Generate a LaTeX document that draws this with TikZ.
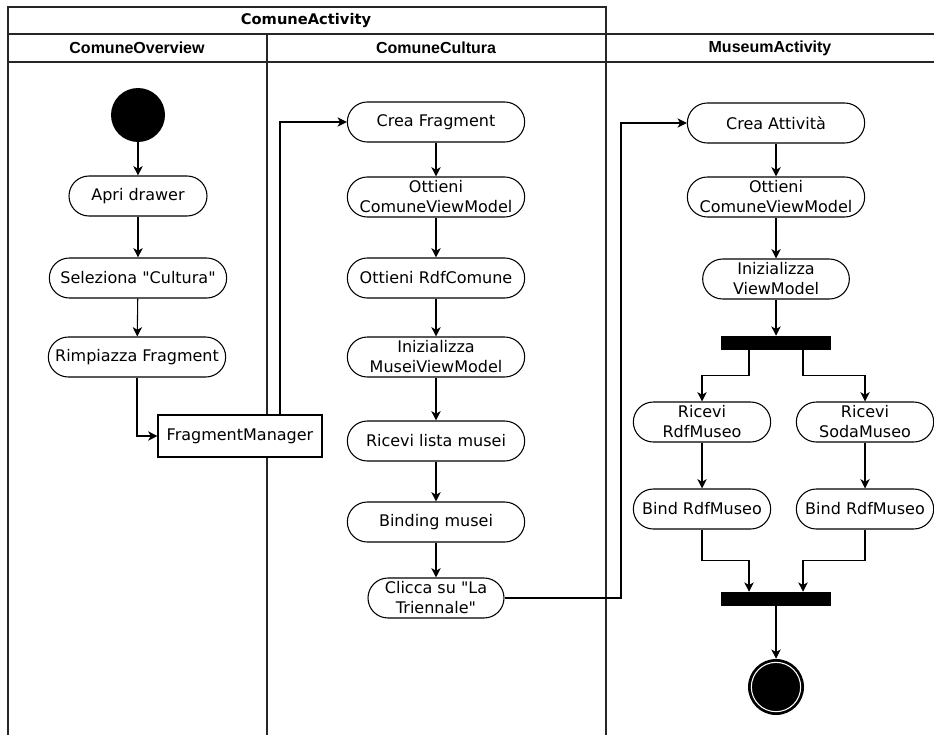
\documentclass[tikz,border=0pt]{standalone}
\usepackage{fontspec}
\setmainfont{DejaVu Sans}[Ligatures=TeXOff]
\newfontfamily\lanefont{Liberation Sans}[Ligatures=TeXOff]
\usetikzlibrary{arrows.meta,positioning,calc}
\begin{document}
\begin{tikzpicture}[x=0.75pt,y=-0.75pt,
  lane/.style={line width=1.1pt,draw=black!85},
  pooltitle/.style={font=\bfseries\fontsize{11}{13}\selectfont,inner sep=0pt},
  lanetitle/.style={font=\lanefont\bfseries\fontsize{12}{14}\selectfont,inner sep=0pt},
  act/.style={draw,line width=0.8pt,rounded corners=15pt,minimum height=30pt,
    minimum width=#1,inner sep=0pt,align=center,font=\fontsize{12}{15}\selectfont,fill=white},
  act/.default=133pt,
  box/.style={draw,line width=0.8pt,minimum height=31.5pt,minimum width=123pt,
    inner sep=0pt,font=\fontsize{12}{15}\selectfont,fill=white},
  bar/.style={fill=black,minimum width=82.5pt,minimum height=10.5pt,inner sep=0pt},
  arr/.style={line width=0.8pt,-{Stealth[length=7pt,width=7pt,inset=2pt]}},
  ln/.style={line width=0.8pt}]
\useasboundingbox (0,0) rectangle (934,735);

% swimlanes
\draw[lane] (8,735) -- (8,7) -- (606,7) -- (606,735);
\draw[lane] (8,34) -- (934,34);
\draw[lane] (8,62) -- (934,62);
\draw[lane] (267,34) -- (267,735);

\node[pooltitle] (hA) at (306,21) {ComuneActivity};
\node[lanetitle] (hO) at (137,48) {ComuneOverview};
\node[lanetitle] (hC) at (436,48) {ComuneCultura};
\node[lanetitle] (hM) at (770,48) {MuseumActivity};

% ComuneOverview
\node[circle,fill=black,minimum size=40.5pt,inner sep=0pt] (start) at (138,115) {};
\node[act=103.5pt] (apri) at (138,196) {Apri drawer};
\node[act] (sel) at (138,278) {Seleziona "Cultura"};
\node[act] (rimp) at (137,357) {Rimpiazza Fragment};
\node[box] (fm) at (240,436) {FragmentManager};

% ComuneCultura
\node[act] (creaF) at (436,122) {Crea Fragment};
\node[act] (ottC) at (436,197) {Ottieni\\ComuneViewModel};
\node[act] (ottR) at (436,278) {Ottieni RdfComune};
\node[act] (iniM) at (436,357) {Inizializza\\MuseiViewModel};
\node[act] (ric) at (436,441) {Ricevi lista musei};
\node[act] (bind) at (436,522) {Binding musei};
\node[act=102pt] (clic) at (436,598) {Clicca su "La\\Triennale"};

% MuseumActivity
\node[act] (creaA) at (776,123) {Crea Attività};
\node[act] (ottC2) at (776,197) {Ottieni\\ComuneViewModel};
\node[act=110pt] (iniV) at (776,279) {Inizializza\\ViewModel};
\node[bar] (fork) at (776,343) {};
\node[act=103pt] (ricR) at (702,422) {Ricevi\\RdfMuseo};
\node[act=103pt] (ricS) at (865,422) {Ricevi\\SodaMuseo};
\node[act=103pt] (bindL) at (702,509) {Bind RdfMuseo};
\node[act=103pt] (bindR) at (865,509) {Bind RdfMuseo};
\node[bar] (join) at (776,599) {};
\node[circle,fill=black,minimum size=42pt,inner sep=0pt] (end) at (776,687) {};
\draw[white,line width=0.8pt] (end.center) circle (18.5pt);

% flows
\draw[arr] (start) -- (apri);
\draw[arr] (apri) -- (sel);
\draw[arr] (sel) -- (rimp);
\draw[arr] (rimp.south) |- (fm.west);
\draw[arr] ([xshift=30pt]fm.north) |- (creaF.west);

\draw[arr] (creaF) -- (ottC);
\draw[arr] (ottC) -- (ottR);
\draw[arr] (ottR) -- (iniM);
\draw[arr] (iniM) -- (ric);
\draw[arr] (ric) -- (bind);
\draw[arr] (bind) -- (clic);
\coordinate (via) at (621,598);
\draw[arr] (clic.east) -- (via) |- (creaA.west);

\draw[arr] (creaA) -- (ottC2);
\draw[arr] (ottC2) -- (iniV);
\draw[arr] (iniV) -- (fork);
\draw[arr] ([xshift=-20.25pt]fork.south) -- ++(0,25) -| (ricR.north);
\draw[arr] ([xshift=20.25pt]fork.south) -- ++(0,25) -| (ricS.north);
\draw[arr] (ricR) -- (bindL);
\draw[arr] (ricS) -- (bindR);
\draw[arr] (bindL.south) -- ++(0,31) -| ([xshift=-20.25pt]join.north);
\draw[arr] (bindR.south) -- ++(0,31) -| ([xshift=20.25pt]join.north);
\draw[arr] (join) -- (end);
\end{tikzpicture}
\end{document}
